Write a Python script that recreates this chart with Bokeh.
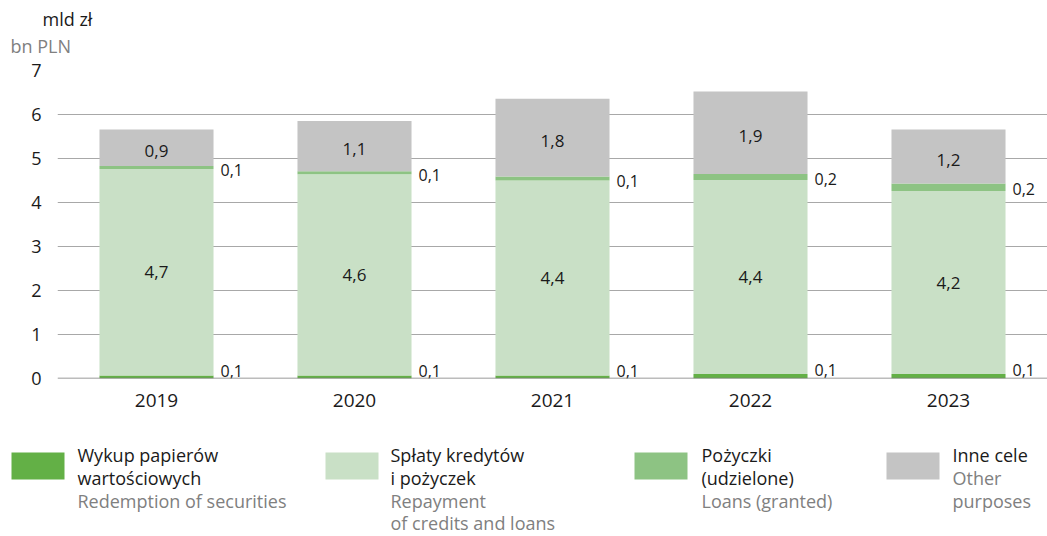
import numpy as np
from bokeh.plotting import figure
from bokeh.models import Range1d, FactorRange, Span, FixedTicker, ColumnDataSource
from bokeh.core.properties import value
from bokeh.embed import file_html
from bokeh.resources import INLINE

# ---- data ----
years = ["2019", "2020", "2021", "2022", "2023"]
wykup = [0.07, 0.07, 0.07, 0.10, 0.10]        # Wykup papierów wartościowych
splaty = [4.69, 4.57, 4.43, 4.41, 4.16]       # Spłaty kredytów i pożyczek
pozyczki = [0.07, 0.07, 0.09, 0.14, 0.17]     # Pożyczki (udzielone)
inne = [0.83, 1.14, 1.77, 1.87, 1.23]         # Inne cele

wykup_lbl = ["0,1", "0,1", "0,1", "0,1", "0,1"]
splaty_lbl = ["4,7", "4,6", "4,4", "4,4", "4,2"]
pozyczki_lbl = ["0,1", "0,1", "0,1", "0,2", "0,2"]
inne_lbl = ["0,9", "1,1", "1,8", "1,9", "1,2"]

y_ticks = [0, 1, 2, 3, 4, 5, 6, 7]

FONT = "Open Sans"
C_WYKUP = "#63b046"
C_SPLATY = "#c9e0c6"
C_POZ = "#8dc383"
C_INNE = "#c4c4c4"
TXT = "#1a1a1a"
GREY_TXT = "#808080"


def bare(fig):
    fig.axis.visible = False
    fig.grid.visible = False
    fig.outline_line_color = None
    fig.background_fill_color = None
    fig.border_fill_color = None


# ---- header (unit labels) ----
hd = figure(x_range=Range1d(0, 1047), y_range=Range1d(58, 0), width=1047, height=58,
            output_backend="svg", toolbar_location=None, min_border=0)
bare(hd)
hd.text(x=[42, 10], y=[18, 45], text=["mld zł", "bn PLN"], text_color=[TXT, GREY_TXT],
        text_font=value(FONT), text_font_size="18px", text_baseline="middle", text_align="left")

# ---- main chart ----
p = figure(x_range=FactorRange(*years, range_padding=0), y_range=Range1d(0, 7),
           width=1047, height=362, output_backend="svg", toolbar_location=None,
           min_border_left=57, min_border_right=0, min_border_top=12, min_border_bottom=42)
p.outline_line_color = None
p.background_fill_color = None
p.border_fill_color = None

src = ColumnDataSource(dict(years=years, wykup=wykup, splaty=splaty, pozyczki=pozyczki, inne=inne))
p.vbar_stack(["wykup", "splaty", "pozyczki", "inne"], x="years", width=0.576, source=src,
             color=[C_WYKUP, C_SPLATY, C_POZ, C_INNE], line_color=None)

w = np.array(wykup); s = np.array(splaty); pz = np.array(pozyczki); o = np.array(inne)
lab = ColumnDataSource(dict(
    years=years,
    s_y=w + s / 2, s_t=splaty_lbl,
    o_y=w + s + pz + o / 2, o_t=inne_lbl,
    p_y=w + s + pz / 2, p_t=pozyczki_lbl,
    w_y=w / 2, w_t=wykup_lbl,
))
p.text(x="years", y="s_y", text="s_t", source=lab, text_align="center", text_baseline="middle",
       text_font=value(FONT), text_font_size="17px", text_color=TXT)
p.text(x="years", y="o_y", text="o_t", source=lab, text_align="center", text_baseline="middle",
       y_offset=3, text_font=value(FONT), text_font_size="17px", text_color=TXT)
p.text(x="years", y="p_y", text="p_t", source=lab, text_align="left", text_baseline="middle",
       x_offset=64, y_offset=2, text_font=value(FONT), text_font_size="16px", text_color=TXT)
p.text(x="years", y="w_y", text="w_t", source=lab, text_align="left", text_baseline="middle",
       x_offset=64, y_offset=-6, text_font=value(FONT), text_font_size="16px", text_color=TXT)

p.ygrid.grid_line_color = "#a8a8a8"
p.ygrid.grid_line_width = 1
p.xgrid.grid_line_color = None
p.yaxis.ticker = FixedTicker(ticks=y_ticks)
for ax in (p.xaxis, p.yaxis):
    ax.axis_line_color = None
    ax.major_tick_line_color = None
    ax.minor_tick_line_color = None
    ax.major_label_text_font = FONT
    ax.major_label_text_color = TXT
p.yaxis.major_label_text_font_size = "18px"
p.xaxis.major_label_text_font_size = "19px"
p.yaxis.major_label_standoff = 10
p.xaxis.major_label_standoff = 9

p.add_layout(Span(location=0, dimension="width", line_color="#7a7a7a", line_width=1.5))

# ---- legend ----
leg_names_pl = [["Wykup papierów", "wartościowych"], ["Spłaty kredytów", "i pożyczek"],
                ["Pożyczki", "(udzielone)"], ["Inne cele"]]
leg_names_en = [["Redemption of securities"], ["Repayment", "of credits and loans"],
                ["Loans (granted)"], ["Other", "purposes"]]
leg_colors = [C_WYKUP, C_SPLATY, C_POZ, C_INNE]
sw_left = [11, 325, 634, 886]
txt_left = [77, 390, 701, 952]

lg = figure(x_range=Range1d(0, 1047), y_range=Range1d(116, 0), width=1047, height=116,
            output_backend="svg", toolbar_location=None, min_border=0)
bare(lg)
lg.quad(left=sw_left, right=[a + 53 for a in sw_left], top=[32] * 4, bottom=[59] * 4,
        color=leg_colors, line_color=None)
centers = [34, 57, 80, 102.5]
tx, ty, tt, tc = [], [], [], []
for i in range(4):
    lines = [(t, TXT) for t in leg_names_pl[i]] + [(t, GREY_TXT) for t in leg_names_en[i]]
    for j, (t, c) in enumerate(lines):
        tx.append(txt_left[i]); ty.append(centers[j]); tt.append(t); tc.append(c)
lg.text(x=tx, y=ty, text=tt, text_color=tc, text_font=value(FONT), text_font_size="18px",
        text_baseline="middle", text_align="left")

open("out.html", "w").write(file_html([hd, p, lg], INLINE))
